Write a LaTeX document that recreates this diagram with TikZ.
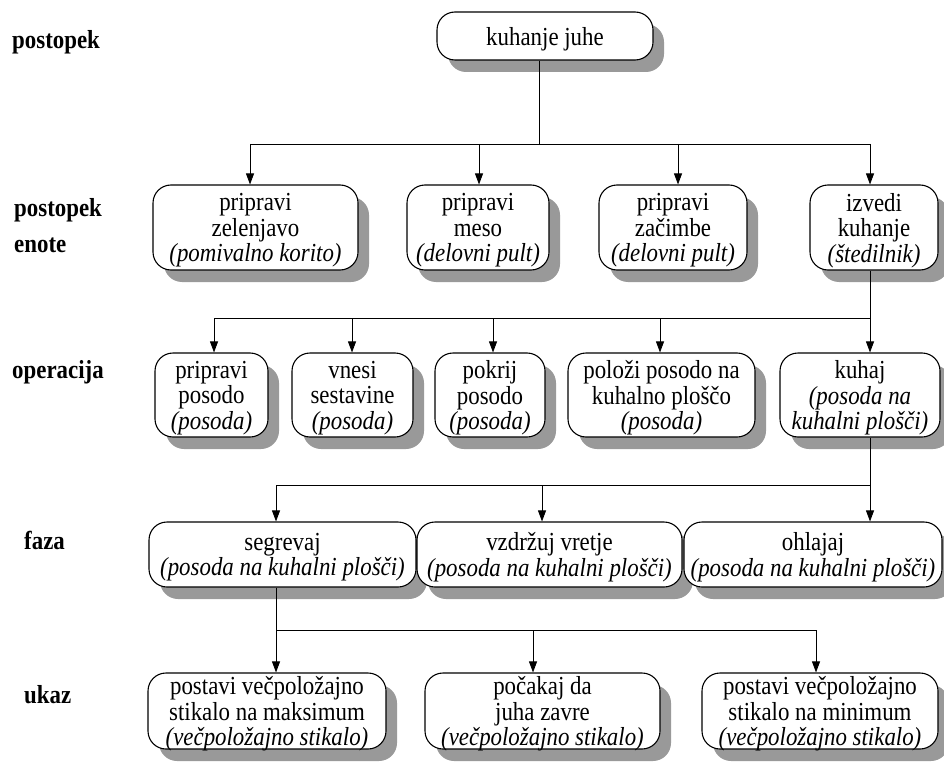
\documentclass[tikz,border=0pt]{standalone}
\usepackage{fontspec}
\setmainfont{Liberation Serif}[FakeStretch=0.88]
\usetikzlibrary{arrows.meta,shadows}
\begin{document}
\begin{tikzpicture}[x=1pt,y=-1pt,
  box/.style={draw, line width=1.1pt, rounded corners=18pt, fill=white,
    align=center, inner sep=1pt, text depth=-2.5pt,
    drop shadow={shadow xshift=11pt, shadow yshift=-12pt, fill=black!40, opacity=1},
    font=\fontsize{26}{25.5}\selectfont},
  lvl/.style={anchor=west, inner sep=0pt, font=\fontsize{26}{25}\selectfont\bfseries},
  link/.style={line width=0.8pt},
  arr/.style={link, -{Triangle[length=11pt,width=8pt]}}]
\useasboundingbox (0,0) rectangle (944,762);

% level labels
\node[lvl] (l1) at (12,42) {postopek};
\node[lvl] (l2) at (14,210) {postopek};
\node[lvl] (l3) at (14,245) {enote};
\node[lvl] (l4) at (12,372) {operacija};
\node[lvl] (l5) at (24,540) {faza};
\node[lvl] (l6) at (24,695) {ukaz};

% procedure
\node[box, minimum width=216, minimum height=48] (K) at (545,36) {kuhanje juhe};

% unit procedures
\node[box, minimum width=205, minimum height=85] (A) at (255.5,227.5)
  {pripravi\\zelenjavo\\\textit{(pomivalno korito)}};
\node[box, minimum width=142, minimum height=85] (B) at (478,227.5)
  {pripravi\\meso\\\textit{(delovni pult)}};
\node[box, minimum width=148, minimum height=85] (C) at (673,227.5)
  {pripravi\\začimbe\\\textit{(delovni pult)}};
\node[box, minimum width=128, minimum height=85] (D) at (874,227.5)
  {izvedi\\kuhanje\\\textit{(štedilnik)}};

% operations
\node[box, minimum width=113, minimum height=84] (a) at (211.5,395)
  {pripravi\\posodo\\\textit{(posoda)}};
\node[box, minimum width=121, minimum height=84] (b) at (352.5,395)
  {vnesi\\sestavine\\\textit{(posoda)}};
\node[box, minimum width=110, minimum height=84] (c) at (490,395)
  {pokrij\\posodo\\\textit{(posoda)}};
\node[box, minimum width=187, minimum height=84] (d) at (661.5,395)
  {položi posodo na\\kuhalno ploščo\\\textit{(posoda)}};
\node[box, minimum width=160, minimum height=84] (e) at (860,395)
  {kuhaj\\\textit{(posoda na}\\\textit{kuhalni plošči)}};

% phases
\node[box, minimum width=267, minimum height=65] (f) at (282.5,554.5)
  {segrevaj\\\textit{(posoda na kuhalni plošči)}};
\node[box, minimum width=265, minimum height=65] (g) at (549.5,554.5)
  {vzdržuj vretje\\\textit{(posoda na kuhalni plošči)}};
\node[box, minimum width=258, minimum height=65] (h) at (813,554.5)
  {ohlajaj\\\textit{(posoda na kuhalni plošči)}};

% commands
\node[box, minimum width=238, minimum height=76] (i) at (267,711)
  {postavi večpoložajno\\stikalo na maksimum\\\textit{(večpoložajno stikalo)}};
\node[box, minimum width=235, minimum height=76] (j) at (542.5,711)
  {počakaj da\\juha zavre\\\textit{(večpoložajno stikalo)}};
\node[box, minimum width=236, minimum height=76] (k) at (820,711)
  {postavi večpoložajno\\stikalo na minimum\\\textit{(večpoložajno stikalo)}};

% procedure -> unit procedures
\coordinate (t0) at (539,144);
\coordinate (t1) at (250,144);
\coordinate (t2) at (479,144);
\coordinate (t3) at (678,144);
\coordinate (t4) at (870,144);
\draw[link] (t0 |- K.south) -- (t0);
\draw[link] (t1) -- (t4);
\draw[arr] (t1) -- (t1 |- A.north);
\draw[arr] (t2) -- (t2 |- B.north);
\draw[arr] (t3) -- (t3 |- C.north);
\draw[arr] (t4) -- (t4 |- D.north);

% unit procedure -> operations
\coordinate (u1) at (214,318);
\coordinate (u2) at (352,318);
\coordinate (u3) at (493,318);
\coordinate (u4) at (660,318);
\coordinate (u5) at (870,318);
\draw[link] (u5 |- D.south) -- (u5);
\draw[link] (u1) -- (u5);
\draw[arr] (u1) -- (u1 |- a.north);
\draw[arr] (u2) -- (u2 |- b.north);
\draw[arr] (u3) -- (u3 |- c.north);
\draw[arr] (u4) -- (u4 |- d.north);
\draw[arr] (u5) -- (u5 |- e.north);

% operation -> phases
\coordinate (v1) at (276,485);
\coordinate (v2) at (542,485);
\coordinate (v3) at (870,485);
\draw[link] (v3 |- e.south) -- (v3);
\draw[link] (v1) -- (v3);
\draw[arr] (v1) -- (v1 |- f.north);
\draw[arr] (v2) -- (v2 |- g.north);
\draw[arr] (v3) -- (v3 |- h.north);

% phase -> commands
\coordinate (w1) at (276,630);
\coordinate (w2) at (533,630);
\coordinate (w3) at (816,630);
\draw[link] (w1 |- f.south) -- (w1);
\draw[link] (w1) -- (w3);
\draw[arr] (w1) -- (w1 |- i.north);
\draw[arr] (w2) -- (w2 |- j.north);
\draw[arr] (w3) -- (w3 |- k.north);
\end{tikzpicture}
\end{document}
